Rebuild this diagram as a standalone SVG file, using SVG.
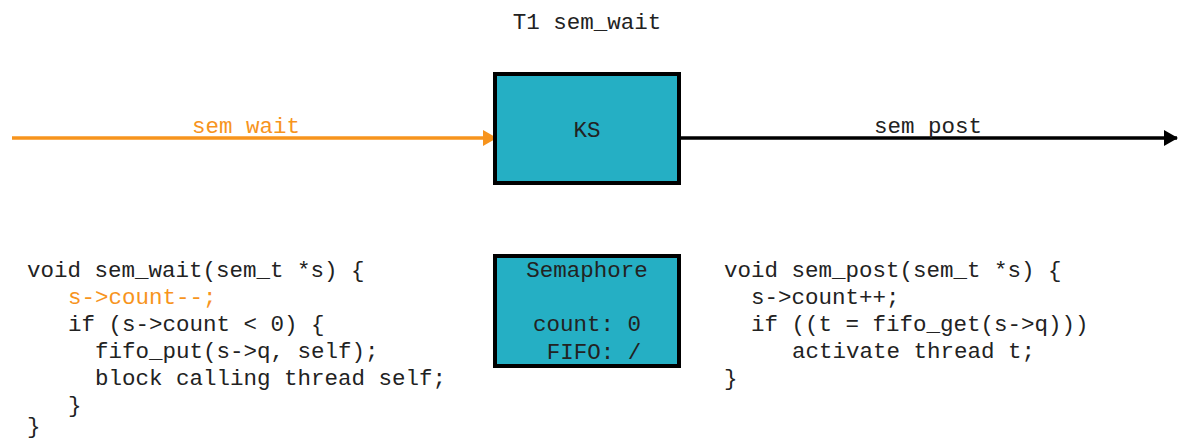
<svg xmlns="http://www.w3.org/2000/svg" width="1183" height="441" viewBox="0 0 1183 441">
<style>
text{font-family:"Liberation Mono","Courier New",monospace;font-size:22.5px;fill:#222;white-space:pre}
.or{fill:#f7941d}
.box{fill:#25afc4;stroke:#000;stroke-width:4}
.mid{text-anchor:middle}
</style>
<defs>
<marker id="ahO" markerWidth="14" markerHeight="16" refX="13" refY="8" orient="auto" markerUnits="userSpaceOnUse"><path d="M0,0 L14,8 L0,16 Z" fill="#f7941d"/></marker>
<marker id="ahB" markerWidth="14" markerHeight="16" refX="13" refY="8" orient="auto" markerUnits="userSpaceOnUse"><path d="M0,0 L14,8 L0,16 Z" fill="#000"/></marker>
</defs>
<rect width="1183" height="441" fill="#fff"/>
<text class="mid" x="587" y="29">T1 sem_wait</text>
<g id="connectors">
<line x1="12" y1="138" x2="496" y2="138" stroke="#f7941d" stroke-width="3.5" marker-end="url(#ahO)"/>
<text class="or mid" x="246" y="133">sem wait</text>
<line x1="679" y1="138" x2="1177" y2="138" stroke="#000" stroke-width="3.5" marker-end="url(#ahB)"/>
<text class="mid" x="928" y="133">sem post</text>
</g>
<g id="ks">
<rect class="box" x="495" y="74" width="184" height="109"/>
<text class="mid" x="587" y="137">KS</text>
</g>
<g id="semaphore">
<rect class="box" x="495" y="256" width="184" height="110"/>
<text class="mid" x="587" y="277">Semaphore</text>
<text class="mid" x="587" y="331">count: 0</text>
<text class="mid" x="594" y="359">FIFO: /</text>
</g>
<g id="code-wait">
<text x="27" y="277">void sem_wait(sem_t *s) {</text>
<text class="or" x="68" y="304">s-&gt;count--;</text>
<text x="68" y="331">if (s-&gt;count &lt; 0) {</text>
<text x="95" y="358">fifo_put(s-&gt;q, self);</text>
<text x="95" y="385">block calling thread self;</text>
<text x="68" y="412">}</text>
<text x="27" y="433">}</text>
</g>
<g id="code-post">
<text x="724" y="277">void sem_post(sem_t *s) {</text>
<text x="751" y="304">s-&gt;count++;</text>
<text x="751" y="331">if ((t = fifo_get(s-&gt;q)))</text>
<text x="792" y="358">activate thread t;</text>
<text x="724" y="385">}</text>
</g>
</svg>
